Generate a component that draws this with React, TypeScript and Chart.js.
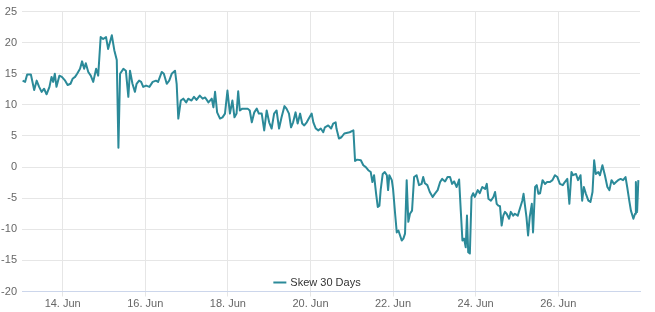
import React, { useEffect, useRef } from "react";
import { Chart, registerables } from "chart.js";

Chart.register(...registerables);

const seriesName = "Skew 30 Days";

// day of June (fractional)
const days = [
  13.03, 13.09, 13.14, 13.23, 13.31, 13.37, 13.43, 13.49, 13.55, 13.61,
  13.68, 13.73, 13.77, 13.81, 13.85, 13.92, 13.98, 14.06, 14.12, 14.19,
  14.24, 14.30, 14.35, 14.42, 14.47, 14.52, 14.56, 14.62, 14.68, 14.74,
  14.81, 14.86, 14.92, 14.98, 15.05, 15.10, 15.19, 15.25, 15.31, 15.35,
  15.39, 15.47, 15.53, 15.59, 15.63, 15.69, 15.75, 15.79, 15.85, 15.90,
  15.95, 16.02, 16.10, 16.18, 16.26, 16.31, 16.40, 16.45, 16.52, 16.58,
  16.64, 16.72, 16.76, 16.80, 16.86, 16.92, 16.99, 17.04, 17.12, 17.18,
  17.24, 17.32, 17.39, 17.45, 17.53, 17.61, 17.65, 17.69, 17.74, 17.81,
  17.87, 17.93, 17.99, 18.05, 18.11, 18.16, 18.21, 18.25, 18.29, 18.35,
  18.41, 18.48, 18.53, 18.58, 18.64, 18.70, 18.75, 18.82, 18.88, 18.94,
  19.00, 19.06, 19.12, 19.18, 19.24, 19.30, 19.37, 19.42, 19.48, 19.53,
  19.58, 19.64, 19.69, 19.75, 19.80, 19.85, 19.91, 19.96, 20.03, 20.07,
  20.13, 20.19, 20.25, 20.31, 20.35, 20.43, 20.50, 20.55, 20.61, 20.63,
  20.69, 20.75, 20.82, 20.95, 21.04, 21.08, 21.13, 21.22, 21.28, 21.34,
  21.40, 21.46, 21.50, 21.54, 21.59, 21.63, 21.67, 21.70, 21.75, 21.80,
  21.85, 21.88, 21.91, 21.97, 22.00, 22.05, 22.09, 22.13, 22.17, 22.21,
  22.25, 22.29, 22.33, 22.37, 22.41, 22.46, 22.51, 22.57, 22.63, 22.69,
  22.73, 22.77, 22.83, 22.89, 22.96, 23.01, 23.08, 23.14, 23.19, 23.26,
  23.32, 23.38, 23.43, 23.48, 23.54, 23.60, 23.64, 23.68, 23.72, 23.76,
  23.79, 23.82, 23.86, 23.90, 23.94, 23.98, 24.05, 24.10, 24.16, 24.23,
  24.27, 24.31, 24.37, 24.43, 24.47, 24.51, 24.55, 24.59, 24.63, 24.67,
  24.71, 24.75, 24.81, 24.85, 24.91, 24.95, 25.02, 25.07, 25.13, 25.16,
  25.19, 25.23, 25.27, 25.31, 25.36, 25.39, 25.44, 25.48, 25.52, 25.56,
  25.62, 25.68, 25.73, 25.80, 25.86, 25.92, 25.98, 26.04, 26.11, 26.16,
  26.22, 26.27, 26.32, 26.36, 26.43, 26.48, 26.54, 26.58, 26.62, 26.67,
  26.73, 26.78, 26.83, 26.87, 26.91, 26.97, 27.01, 27.07, 27.13, 27.19,
  27.24, 27.29, 27.35, 27.40, 27.45, 27.51, 27.57, 27.63, 27.67, 27.72,
  27.76, 27.82, 27.86, 27.88, 27.91, 27.94,
];

const skew30 = [
  13.9, 13.7, 14.9, 14.9, 12.4, 13.9, 12.9, 12.1, 12.6, 11.7,
  12.9, 14.5, 13.7, 15.0, 12.9, 14.7, 14.5, 13.9, 13.2, 13.4,
  14.2, 14.5, 15.0, 15.8, 17.0, 15.8, 16.7, 15.3, 14.7, 13.7,
  15.8, 14.7, 20.9, 20.6, 20.9, 19.0, 21.2, 18.8, 17.2, 3.1,
  15.0, 15.8, 15.5, 11.3, 15.5, 13.4, 12.1, 13.4, 13.9, 13.7,
  12.9, 13.1, 12.9, 13.7, 13.9, 13.7, 15.3, 15.0, 13.4, 13.9,
  15.0, 15.5, 13.4, 7.8, 10.7, 11.0, 10.4, 11.0, 10.7, 11.3,
  10.8, 11.5, 11.0, 11.2, 10.4, 11.0, 9.6, 12.1, 8.8, 7.8,
  8.0, 8.6, 12.3, 8.6, 10.7, 8.0, 8.6, 12.2, 9.1, 9.4,
  9.4, 9.4, 9.1, 7.2, 8.8, 9.4, 8.6, 8.6, 5.9, 9.1,
  7.2, 6.2, 8.6, 9.1, 6.2, 8.0, 9.8, 9.4, 8.6, 6.4,
  7.2, 8.8, 7.0, 8.6, 7.0, 6.7, 7.2, 7.8, 8.6, 7.2,
  6.2, 5.9, 6.2, 5.6, 6.4, 6.7, 6.2, 7.0, 7.2, 6.2,
  4.6, 4.8, 5.4, 5.6, 5.9, 1.0, 1.2, 1.1, 0.3, 0.0,
  -0.5, -0.8, -2.4, -1.3, -4.3, -6.4, -6.2, -3.7, -1.1, -0.8,
  -1.3, -3.7, -1.3, -2.1, -3.5, -7.5, -10.5, -10.2, -11.0, -11.8,
  -11.5, -10.7, -2.1, -8.8, -7.5, -7.0, -1.6, -1.3, -2.9, -2.7,
  -1.6, -2.6, -2.9, -4.0, -4.8, -4.3, -3.7, -2.4, -1.9, -2.3,
  -1.6, -1.6, -2.7, -2.3, -3.2, -2.0, -7.0, -11.8, -11.5, -12.9,
  -7.8, -13.7, -13.9, -4.8, -4.2, -4.8, -3.7, -4.2, -3.2, -3.5,
  -2.7, -5.1, -5.4, -4.8, -4.0, -5.9, -6.2, -6.3, -9.4, -7.8,
  -7.2, -7.5, -8.3, -7.2, -7.8, -7.5, -7.8, -6.7, -5.4, -4.3,
  -5.9, -8.0, -11.0, -8.0, -5.9, -10.5, -3.2, -2.9, -4.3, -4.2,
  -2.1, -2.7, -2.4, -2.4, -2.1, -1.3, -1.6, -2.7, -2.9, -2.4,
  -1.9, -5.9, -0.8, -1.3, -1.1, -2.1, -1.3, -5.4, -3.2, -4.3,
  -5.4, -5.6, -4.0, 1.1, -1.1, -0.8, -1.3, 0.3, -1.3, -3.2,
  -3.7, -2.1, -2.7, -2.4, -2.1, -1.9, -2.1, -1.6, -3.2, -5.4,
  -7.0, -8.3, -7.5, -2.4, -7.2, -2.1,
];

const xTickDays = [14, 16, 18, 20, 22, 24, 26];
const xTickLabels = ["14. Jun", "16. Jun", "18. Jun", "20. Jun", "22. Jun", "24. Jun", "26. Jun"];
const yMin = -20;
const yMax = 25;
const yStep = 5;

const lineColor = "#2b8a99";
const FONT = "'Liberation Sans', Arial, sans-serif";

const legendPlugin = {
  id: "innerLegend",
  afterDraw(chart: any) {
    const ctx = chart.ctx;
    const ca = chart.chartArea;
    ctx.save();
    ctx.font = `11px ${FONT}`;
    const tw = ctx.measureText(seriesName).width;
    const total = 13 + 4 + tw;
    const startX = (ca.left + ca.right) / 2 - total / 2 - 14;
    const y = ca.bottom - 9;
    ctx.strokeStyle = lineColor;
    ctx.lineWidth = 2;
    ctx.beginPath();
    ctx.moveTo(startX, y);
    ctx.lineTo(startX + 13, y);
    ctx.stroke();
    ctx.fillStyle = "#333333";
    ctx.textBaseline = "middle";
    ctx.textAlign = "left";
    ctx.fillText(seriesName, startX + 17, y);
    ctx.restore();
  },
};

export default function App() {
  const ref = useRef<HTMLCanvasElement | null>(null);

  useEffect(() => {
    if (!ref.current) return;
    const data = days.map((d, i) => ({ x: d, y: skew30[i] }));
    const chart = new Chart(ref.current, {
      type: "line",
      data: {
        datasets: [
          {
            label: seriesName,
            data,
            borderColor: lineColor,
            backgroundColor: lineColor,
            borderWidth: 2,
            pointRadius: 0,
            tension: 0,
            borderJoinStyle: "round",
          },
        ],
      },
      options: {
        animation: false,
        responsive: false,
        devicePixelRatio: 1,
        layout: { padding: { top: 11.5, right: 15, left: 0, bottom: 0 } },
        plugins: {
          legend: { display: false },
          tooltip: { enabled: false },
        },
        scales: {
          x: {
            type: "linear",
            min: 13.015,
            max: 27.98,
            afterBuildTicks: (s: any) => {
              s.ticks = xTickDays.map((v) => ({ value: v }));
            },
            afterFit: (s: any) => {
              s.height = 20.5;
            },
            ticks: {
              autoSkip: false,
              maxRotation: 0,
              padding: 1,
              color: "#666666",
              font: { family: FONT, size: 11 },
              callback: (v: any) => {
                const i = xTickDays.indexOf(Number(v));
                return i >= 0 ? xTickLabels[i] : "";
              },
            },
            grid: { color: "#e6e6e6", tickLength: 5, drawTicks: true },
            border: { color: "#ccd6eb" },
          },
          y: {
            min: yMin,
            max: yMax,
            afterFit: (s: any) => {
              s.width = 22;
            },
            ticks: {
              stepSize: yStep,
              padding: 5,
              color: "#666666",
              font: { family: FONT, size: 11 },
            },
            grid: { color: "#e6e6e6", drawTicks: false },
            border: { display: false },
          },
        },
      },
      plugins: [legendPlugin],
    });
    return () => chart.destroy();
  }, []);

  return (
    <div style={{ position: "absolute", left: 0, top: 0, width: 655, height: 312, background: "#fff" }}>
      <canvas ref={ref} width={655} height={312} />
    </div>
  );
}
